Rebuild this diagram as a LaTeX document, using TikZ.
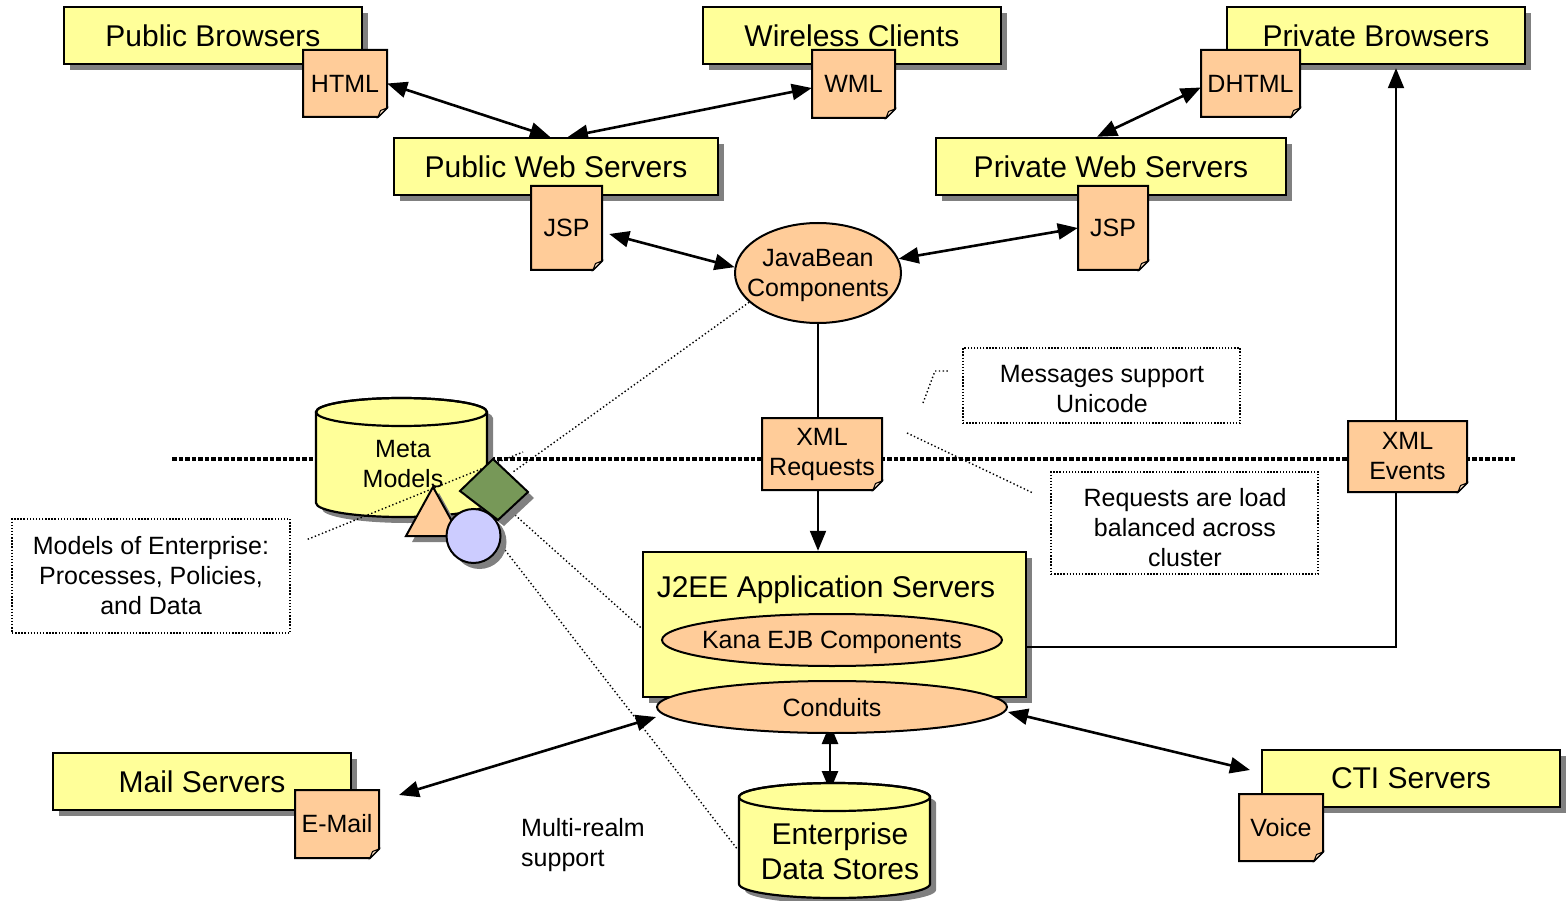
\documentclass[tikz,border=0pt]{standalone}
\usepackage{fontspec}
\setmainfont{Liberation Sans}
\usetikzlibrary{shapes.geometric,shadows,arrows.meta}

\definecolor{boxyellow}{HTML}{FFFF99}
\definecolor{noteorange}{HTML}{FFCC99}
\definecolor{foldorange}{HTML}{FFE2C4}
\definecolor{shapeblue}{HTML}{CCCCFF}
\definecolor{shapegreen}{HTML}{779858}
\definecolor{shadowgray}{HTML}{808080}

\newcommand{\lblbig}{\fontsize{30}{35}\selectfont}
\newcommand{\lblsmall}{\fontsize{25}{30}\selectfont}

\pgfdeclarelayer{back}
\pgfdeclarelayer{links}
\pgfsetlayers{back,links,main}

\tikzset{
  boxshadow/.style={drop shadow={shadow xshift=6pt, shadow yshift=-6pt, fill=shadowgray, opacity=1}},
  box/.style={rectangle, draw=black, line width=2.4pt, fill=boxyellow, inner sep=0pt, font=\lblbig, boxshadow},
  notebody/.style={draw=black, line width=2pt, fill=noteorange, line join=miter},
  notefold/.style={draw=black, line width=1pt, fill=foldorange},
  notelabel/.style={rectangle, inner sep=0pt, font=\lblsmall, align=center},
  oval/.style={ellipse, draw=black, line width=2pt, fill=noteorange, inner sep=0pt},
  cylbody/.style={draw=black, line width=2.2pt, fill=boxyellow},
  cylline/.style={draw=black, line width=2.2pt},
  shapeline/.style={draw=black, line width=2pt, boxshadow},
  remark/.style={rectangle, draw=black, line width=1.4pt, dash pattern=on 1.4pt off 1.7pt, inner sep=0pt},
  textlbl/.style={inner sep=0pt, font=\lblsmall, align=center},
  leader/.style={line width=1.4pt, dash pattern=on 1.4pt off 2.4pt},
  divider/.style={line width=3.5pt, dash pattern=on 4.5pt off 2pt},
  bigtip/.tip={Triangle[length=20pt,width=16pt]},
  biarrow/.style={line width=2.6pt, bigtip-bigtip},
  onearrow/.style={line width=2pt, -bigtip},
}

% folded-corner document note: name, x1, y1, x2, y2, text
\newcommand{\docnote}[6]{%
  \path[notebody] (#2,#3) -- (#4,#3) -- (#4,#5-9) -- (#4-9,#5) -- (#2,#5) -- cycle;
  \path[notefold] (#4-9,#5) -- (#4-6.5,#5-6.5) -- (#4,#5-9) -- cycle;
  \node[notelabel, minimum width={#4-#2}, minimum height={#5-#3}] (#1) at ({(#2+#4)/2},{(#3+#5)/2}) {#6};
}

% storage drum: x-left, x-right, top ellipse y, bottom ellipse y, y radius
\newcommand{\drum}[5]{%
  \path[cylbody, boxshadow] (#1,#3) -- (#1,#4)
     arc[start angle=180, end angle=0, x radius={(#2-#1)/2}, y radius=#5]
     -- (#2,#3)
     arc[start angle=0, end angle=-180, x radius={(#2-#1)/2}, y radius=#5] -- cycle;
  \path[cylline] ({(#1+#2)/2},#3) ellipse[x radius={(#2-#1)/2}, y radius=#5];
}

\begin{document}
\begin{tikzpicture}[x=1pt, y=-1pt]
\useasboundingbox (0,0) rectangle (1568,901);

% ---------- tier boundary ----------
\begin{pgfonlayer}{back}
  \coordinate (sepL) at (172,459);
  \coordinate (sepR) at (1515,459);
  \draw[divider] (sepL) -- (sepR);
\end{pgfonlayer}

% ---------- client and web tier ----------
\node[box, minimum width=298, minimum height=57] (pubb)  at (213,35.5)  {Public Browsers};
\node[box, minimum width=298, minimum height=57] (wire)  at (852,35.5)  {Wireless Clients};
\node[box, minimum width=298, minimum height=57] (privb) at (1376,35.5) {Private Browsers};
\node[box, minimum width=324, minimum height=57] (pws)   at (556,166.5) {Public Web Servers};
\node[box, minimum width=350, minimum height=57] (prws)  at (1111,166.5) {Private Web Servers};

\docnote{html}{303}{50}{387}{117}{HTML}
\docnote{wml}{812}{50}{895}{118}{WML}
\docnote{dhtml}{1201}{50}{1300}{117}{DHTML}
\docnote{jspl}{531}{186}{602}{270}{JSP}
\docnote{jspr}{1078}{186}{1148}{270}{JSP}

\node[oval, minimum width=166, minimum height=100] (jb) at (818,273) {};
\node[textlbl] (jbt) at (818,275) {JavaBean\\Components};

% ---------- remarks ----------
\node[remark, minimum width=277, minimum height=75] (msg) at (1101.5,385.5) {};
\node[textlbl] (msgt) at (1102,389) {Messages support\\Unicode};
\node[remark, minimum width=267, minimum height=102] (req) at (1184.5,523) {};
\node[textlbl] (reqt) at (1185,528) {Requests are load\\balanced across\\cluster};
\node[remark, minimum width=278, minimum height=114] (models) at (151,576) {};
\node[textlbl] (modelst) at (151,576) {Models of Enterprise:\\Processes, Policies,\\and Data};

% ---------- application tier ----------
\node[box, minimum width=383, minimum height=145] (j2ee) at (834.5,624.5) {};
\node[inner sep=0pt, font=\lblbig, anchor=base] (j2eet) at (826,597) {J2EE Application Servers};
\node[oval, minimum width=340, minimum height=52] (kana) at (832,640) {};
\node[textlbl] (kanat) at (832,642) {Kana EJB Components};
\node[oval, minimum width=350, minimum height=52] (cond) at (832,707) {};
\node[textlbl] (condt) at (832,707.5) {Conduits};

% event channel back up to the private browsers (over the box shadows)
\draw[onearrow] ([yshift=-22pt]j2ee.east) -| ([xshift=20pt,yshift=-3pt]privb.south);

\docnote{xmlreq}{762}{418}{882}{490}{XML\\Requests}
\docnote{xmlev}{1348}{421}{1467}{492}{XML\\Events}

% ---------- meta models ----------
\drum{316}{487}{412}{503}{14}
\node[textlbl] (metat) at (403,464.5) {Meta\\Models};
\coordinate (modelsTip) at (523,452);
\draw[leader] ([xshift=17pt,yshift=-21pt]models.north east) -- (modelsTip);
\path[shapeline, fill=noteorange] (433,487) -- (460,536) -- (406,536) -- cycle;
\path[shapeline, fill=shapegreen] (493,459) -- (528,492) -- (498,520) -- (460,491) -- cycle;
\node[circle, draw=black, line width=2pt, fill=shapeblue, boxshadow, minimum size=54, inner sep=0pt] (circ) at (473.5,536) {};

% ---------- back-end tier ----------
\drum{739}{930}{797}{884}{14}
\node[textlbl, font=\lblbig, align=center] (eds) at (840,851) {Enterprise\\[0pt]Data Stores};

\node[box, minimum width=298, minimum height=57] (mail) at (202,781.5) {Mail Servers};
\node[box, minimum width=298, minimum height=57] (cti)  at (1411,778.5) {CTI Servers};
\docnote{email}{295}{790}{379}{858}{E-Mail}
\docnote{voice}{1239}{794}{1323}{861}{Voice}

\node[textlbl, align=left, anchor=west] (realm) at (521,845) {Multi-realm\\support};

% ---------- connectors ----------
\begin{pgfonlayer}{links}
  \draw[biarrow] (html.east) -- ([xshift=-6pt]pws.north);
  \draw[biarrow] ([yshift=-4pt]wml.west) -- ([xshift=12pt]pws.north);
  \draw[biarrow] ([yshift=-4pt]dhtml.west) -- ([xshift=-14pt]prws.north);
  \draw[biarrow] ([xshift=7pt,yshift=-6pt]jspl.east) -- (jb.176);
  \draw[biarrow] (jb.10) -- (jspr.west);
  \draw[onearrow] (jb.south) -- (jb.south |- j2ee.north);

  \coordinate (edsTop) at (830,791);
  \coordinate (mailTip) at (399,795);
  \coordinate (ctiTip) at (1250,770);
  \draw[biarrow] ([yshift=-10pt]cond.west) -- (mailTip);
  \draw[biarrow] ([xshift=-2pt,yshift=10pt]cond.south) -- (edsTop);
  \draw[biarrow] ([yshift=-5pt]cond.east) -- (ctiTip);

  % dotted leaders
  \coordinate (dmdTip) at (513,472);
  \coordinate (dmdFoot) at (515,515);
  \coordinate (circFoot) at (505,550);
  \coordinate (edsSide) at (738,850);
  \draw[leader] (jb.203) -- (dmdTip);
  \draw[leader] (dmdFoot) -- ([yshift=-4pt]j2ee.west);
  \draw[leader] (circFoot) -- (edsSide);
  \coordinate (msgA) at (923,403);
  \coordinate (msgB) at (935,371);
  \coordinate (msgC) at (948,371);
  \draw[leader] (msgA) -- (msgB) -- (msgC);
  \coordinate (reqA) at (907,433);
  \coordinate (reqB) at (1033,493);
  \draw[leader] (reqA) -- (reqB);
\end{pgfonlayer}
\end{tikzpicture}
\end{document}
